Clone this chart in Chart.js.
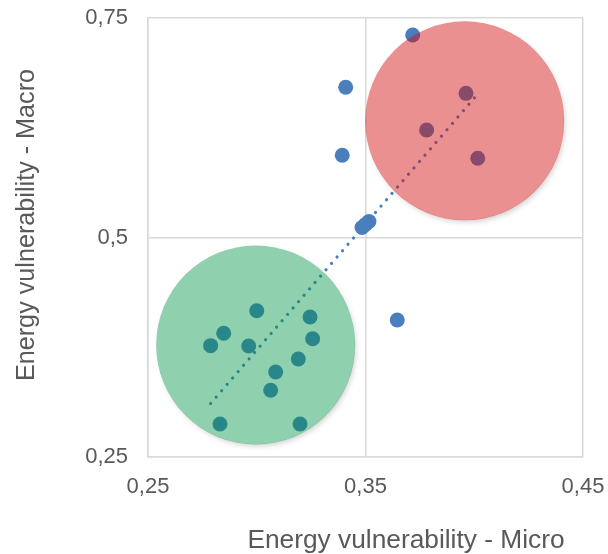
<!DOCTYPE html>
<html>
<head>
<meta charset="utf-8">
<script src="https://cdn.jsdelivr.net/npm/chart.js@4.4.1/dist/chart.umd.min.js"></script>
<style>
  html, body { margin: 0; padding: 0; background: #ffffff; }
  #wrap { width: 608px; height: 554px; }
</style>
</head>
<body>
<div id="wrap"><canvas id="chart" width="608" height="554"></canvas></div>
<script>
// Energy vulnerability per region: micro index (x) against macro index (y)
const micro = [
  0.3717, 0.3409, 0.3393, 0.3484, 0.3500, 0.3516, 0.3646,
  0.3962, 0.3781, 0.4016,
  0.3000, 0.2848, 0.2788, 0.2963, 0.3245, 0.3257, 0.3191, 0.3087, 0.3064, 0.2831, 0.3199
];
const macro = [
  0.7306, 0.6711, 0.5936, 0.5114, 0.5148, 0.5182, 0.4060,
  0.6642, 0.6224, 0.5902,
  0.4166, 0.3909, 0.3768, 0.3764, 0.4095, 0.3847, 0.3616, 0.3468, 0.3260, 0.2876, 0.2876
];

// Centres of the two highlighted groups (high / low vulnerability)
const groupMicro = [0.3956, 0.2995];
const groupMacro = [0.6329, 0.3776];

// Axis ticks
const xTickLabels = ['0,25', '0,35', '0,45'];
const yTickLabels = ['0,25', '0,5', '0,75'];
const xTitle = 'Energy vulnerability - Micro';
const yTitle = 'Energy vulnerability - Macro';

const points = micro.map((x, i) => ({ x: x, y: macro[i] }));

// Least-squares linear trend over all points
function linearTrend(xs, ys) {
  const n = xs.length;
  const mx = xs.reduce((a, b) => a + b, 0) / n;
  const my = ys.reduce((a, b) => a + b, 0) / n;
  let sxy = 0, sxx = 0;
  for (let i = 0; i < n; i++) {
    sxy += (xs[i] - mx) * (ys[i] - my);
    sxx += (xs[i] - mx) * (xs[i] - mx);
  }
  const slope = sxy / sxx;
  const x0 = Math.min(...xs), x1 = Math.max(...xs);
  return [
    { x: x0, y: my + slope * (x0 - mx) },
    { x: x1, y: my + slope * (x1 - mx) }
  ];
}
const trend = linearTrend(micro, macro);

const BLUE = '#4a7ebd';
const TEXT = '#595959';
const GRID = '#d9d9d9';
const FONT = '"Liberation Sans", Arial, sans-serif';
const GROUP_FILL = ['rgba(211, 12, 12, 0.46)', 'rgba(0, 148, 72, 0.44)'];
const GROUP_RADIUS = 99.5;

// Soft drop shadow drawn only outside each highlight disc
const discShadow = {
  id: 'discShadow',
  beforeDatasetDraw(chart, args) {
    if (!chart.data.datasets[args.index].isGroup) return;
    const ctx = chart.ctx;
    args.meta.data.forEach(el => {
      const r = el.options.radius;
      ctx.save();
      ctx.beginPath();
      ctx.rect(0, 0, chart.width, chart.height);
      ctx.arc(el.x, el.y, r - 0.5, 0, Math.PI * 2);
      ctx.clip('evenodd');
      ctx.shadowColor = 'rgba(0, 0, 0, 0.22)';
      ctx.shadowBlur = 6;
      ctx.shadowOffsetX = 2;
      ctx.shadowOffsetY = 3;
      ctx.fillStyle = '#000';
      ctx.beginPath();
      ctx.arc(el.x, el.y, r - 2, 0, Math.PI * 2);
      ctx.fill();
      ctx.restore();
    });
  }
};

// Axis titles
const axisTitles = {
  id: 'axisTitles',
  afterDraw(chart) {
    const ctx = chart.ctx;
    ctx.save();
    ctx.fillStyle = TEXT;
    ctx.textAlign = 'center';
    ctx.textBaseline = 'alphabetic';
    ctx.font = '26.3px ' + FONT;
    ctx.fillText(xTitle, 406, 548);
    ctx.translate(34, 225);
    ctx.rotate(-Math.PI / 2);
    ctx.font = '25.2px ' + FONT;
    ctx.fillText(yTitle, 0, 0);
    ctx.restore();
  }
};

new Chart(document.getElementById('chart'), {
  type: 'scatter',
  data: {
    datasets: [
      {
        isGroup: true,
        data: groupMicro.map((x, i) => ({ x: x, y: groupMacro[i] })),
        backgroundColor: GROUP_FILL,
        borderWidth: 0,
        pointRadius: GROUP_RADIUS,
        pointHoverRadius: GROUP_RADIUS,
        order: 0
      },
      {
        type: 'line',
        data: trend,
        borderColor: BLUE,
        borderWidth: 3.2,
        borderDash: [0.01, 8.4],
        borderCapStyle: 'round',
        pointRadius: 0,
        fill: false,
        order: 1
      },
      {
        data: points,
        backgroundColor: BLUE,
        borderWidth: 0,
        pointRadius: 7.5,
        pointHoverRadius: 7.5,
        order: 2
      }
    ]
  },
  options: {
    responsive: false,
    animation: false,
    events: [],
    layout: { autoPadding: false, padding: { left: 0, right: 25, top: 18, bottom: 0 } },
    plugins: { legend: { display: false }, tooltip: { enabled: false } },
    scales: {
      x: {
        type: 'linear',
        min: 0.25,
        max: 0.45,
        afterBuildTicks(scale) {
          scale.ticks = xTickLabels.map((_, i) => ({ value: 0.25 + i * 0.1 }));
        },
        afterFit(scale) {
          scale.height = 97;
          scale.paddingLeft = 0;
          scale.paddingRight = 0;
        },
        grid: { color: GRID, lineWidth: 1.5, drawTicks: false },
        border: { color: GRID, width: 1.5 },
        ticks: {
          padding: 17,
          color: TEXT,
          font: { family: FONT, size: 22 },
          maxRotation: 0,
          callback: (v, i) => xTickLabels[i]
        }
      },
      y: {
        type: 'linear',
        min: 0.25,
        max: 0.75,
        afterBuildTicks(scale) {
          scale.ticks = yTickLabels.map((_, i) => ({ value: 0.25 + i * 0.25 }));
        },
        afterFit(scale) {
          scale.width = 148;
          scale.paddingTop = 0;
          scale.paddingBottom = 0;
        },
        grid: { color: GRID, lineWidth: 1.5, drawTicks: false },
        border: { color: GRID, width: 1.5 },
        ticks: {
          padding: 20,
          color: TEXT,
          font: { family: FONT, size: 22 },
          callback: (v, i) => yTickLabels[i]
        }
      }
    }
  },
  plugins: [discShadow, axisTitles]
});
</script>
</body>
</html>
